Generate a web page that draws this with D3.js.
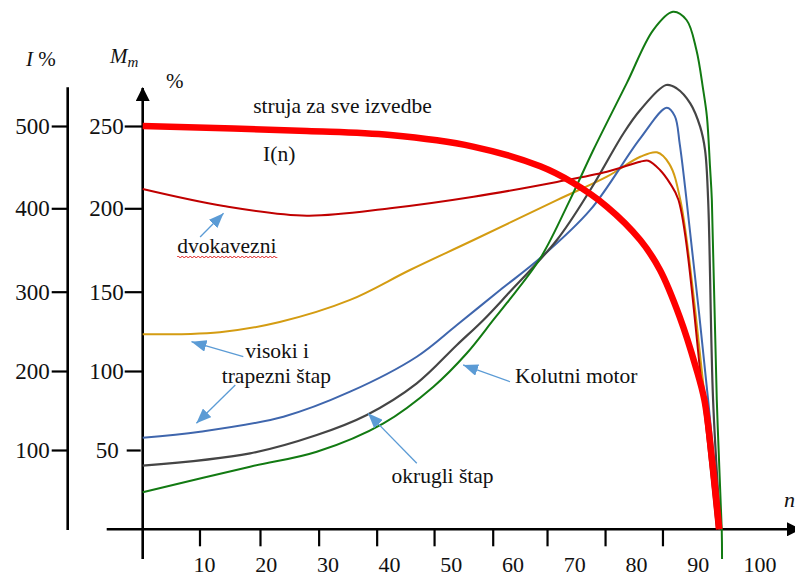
<!DOCTYPE html>
<html><head><meta charset="utf-8">
<script src="https://cdn.jsdelivr.net/npm/d3@7"></script>
<style>
body{margin:0;background:#fff}
svg{display:block}
svg text{font-family:"Liberation Serif","Times New Roman",Times,serif;fill:#111}
</style>
</head><body><svg id="c" width="795" height="577"></svg>
<script>
// ---- data ----
const speedLabels = [10, 20, 30, 40, 50, 60, 70, 80, 90, 100];
const speedTickMarks = [9.2, 19, 28.5, 37.9, 47.2, 56.7, 65.5, 74.9, 84.2];
const torqueTicks = [50, 100, 150, 200, 250];
const currentTicks = [100, 200, 300, 400, 500];

// struja I(n), in % (left axis)
const currentN = [0, 26.6, 40.1, 53.5, 64.4, 69.7, 75.2, 80.6, 83.8, 87.0, 89.6, 91.0, 92.3, 93.4];
const currentI = [500, 494, 489, 475, 451, 431, 402, 362, 326, 268, 205, 163, 83, 0];

// torque curves M(n), in %
const dvokavezniN = [0, 13.1, 26.6, 40.1, 53.6, 67.1, 75.2, 80.6, 81.9, 83.8, 85.4, 86.8, 90.8, 93.0];
const dvokavezniM = [211.7, 201.4, 195.6, 200, 207, 216, 222.2, 228.3, 228.9, 223.3, 215.3, 205, 81.6, 0];

const visokiN = [0, 12.5, 22.2, 33.6, 43.3, 53.6, 67.1, 75.2, 80.6, 83.3, 85.3, 87.1, 91.1, 93.4];
const visokiM = [123.1, 124.5, 130.9, 144.8, 163, 181, 205, 219.2, 231.3, 234, 227, 205, 81.6, 0];

const trapezniN = [0, 9.3, 22.8, 33.6, 44.4, 50.9, 57.9, 64.4, 72.5, 80.6, 84.9, 86.2, 87.0, 88.1, 91.6, 93.5];
const trapezniM = [57.8, 61.6, 71.1, 86.9, 109, 129, 151, 170.2, 199, 242.5, 261.1, 256, 239, 205, 81.6, 0];

const okrugliN = [0, 17.4, 28.2, 36.3, 44.4, 50.9, 55.2, 59, 67.1, 72.5, 77.9, 80.6, 84.8, 86.5, 88.7, 90.3, 91.1, 91.6, 92.4, 93.6];
const okrugliM = [40.1, 47.9, 59.5, 72.2, 92.2, 116.4, 132.2, 147.9, 181, 211.1, 245.6, 259.7, 274.9, 272.9, 263.8, 249.6, 235.4, 205, 81.6, 0];

const kolutniN = [0, 17.4, 28.2, 39, 47.1, 52.5, 56.8, 59, 64.4, 69.2, 73, 78.4, 82.7, 85.9, 88.1, 89.7, 90.8, 91.4, 91.9, 92.2, 93.0, 93.8, 93.85];
const kolutniM = [23.3, 39.5, 48.9, 66.9, 90.1, 111.2, 132.2, 142.9, 170, 205, 235.4, 275.9, 308.3, 319.4, 314.4, 296.2, 271.9, 255.7, 225.3, 205, 81.6, 0, -18.7];

// annotations (n, M, text)
const notes = [
  {n: 17.9, m: 258.2, t: "struja za sve izvedbe"},
  {n: 19.5, m: 228.7, t: "I(n)"},
  {n: 5.6, m: 173.2, t: "dvokavezni", squiggle: true},
  {n: 16.6, m: 108.2, t: "visoki i"},
  {n: 12.8, m: 92.4, t: "trapezni štap"},
  {n: 60.3, m: 92.4, t: "Kolutni motor"},
  {n: 40.3, m: 29, t: "okrugli štap"}
];
const pointers = [
  {n1: 9.3, m1: 182.8, n2: 13.1, m2: 197},
  {n1: 16.3, m1: 109, n2: 7.9, m2: 118.5},
  {n1: 15, m1: 91.1, n2: 8.7, m2: 66.9},
  {n1: 59.5, m1: 93.2, n2: 51.9, m2: 103.8},
  {n1: 44.4, m1: 41.6, n2: 36.5, m2: 73.2}
];

// ---- drawing ----
const FONT = '"Liberation Serif","Times New Roman",Times,serif';
const svg = d3.select("#c");
const x = d3.scaleLinear().domain([0, 100]).range([142.7, 760]);
const yRange = [529.3, 450, 371, 291.7, 208.3, 126];
const yM = d3.scaleLinear().domain([0, 50, 100, 150, 200, 250]).range(yRange);
const yI = d3.scaleLinear().domain([0, 100, 200, 300, 400, 500]).range(yRange);

const defs = svg.append("defs");
defs.append("marker").attr("id", "ah").attr("markerUnits", "userSpaceOnUse")
  .attr("markerWidth", 16).attr("markerHeight", 12).attr("refX", 15).attr("refY", 6)
  .attr("orient", "auto")
  .append("path").attr("d", "M0,0 L15,6 L0,12 Z").attr("fill", "#5b9bd5");
defs.append("marker").attr("id", "axh").attr("markerUnits", "userSpaceOnUse")
  .attr("markerWidth", 14).attr("markerHeight", 14).attr("refX", 13).attr("refY", 7)
  .attr("orient", "auto")
  .append("path").attr("d", "M0,0 L14,7 L0,14 Z").attr("fill", "#000");

// I axis (left)
const gI = svg.append("g").attr("transform", "translate(67.7,0)")
  .call(d3.axisLeft(yI).tickValues(currentTicks).tickSize(16).tickSizeOuter(0).tickPadding(2));
gI.attr("font-family", FONT);
gI.select(".domain").remove();
gI.selectAll(".tick line").attr("stroke", "#000").attr("stroke-width", 2.2);
gI.selectAll(".tick text").style("font-size", "23px").attr("dy", "0.33em");
svg.append("line").attr("x1", 67.7).attr("x2", 67.7).attr("y1", 87.3).attr("y2", 530)
  .attr("stroke", "#000").attr("stroke-width", 2.6);

// M axis
const gM = svg.append("g").attr("transform", "translate(142.7,0)")
  .call(d3.axisLeft(yM).tickValues(torqueTicks).tickSize(18).tickSizeOuter(0).tickPadding(1));
gM.attr("font-family", FONT);
gM.select(".domain").remove();
gM.selectAll(".tick line").attr("stroke", "#000").attr("stroke-width", 2.2)
  .attr("x1", d => d === 50 ? -2 : 0).attr("x2", d => d === 50 ? -16 : -18);
gM.selectAll(".tick text").style("font-size", "23px").attr("dy", "0.33em")
  .attr("x", d => d === 50 ? -24 : -19);
svg.append("line").attr("x1", 142.7).attr("x2", 142.7).attr("y1", 559).attr("y2", 88)
  .attr("stroke", "#000").attr("stroke-width", 2.6).attr("marker-end", "url(#axh)");

// n axis
const gX = svg.append("g").attr("transform", `translate(0,${yM(0)})`)
  .call(d3.axisBottom(x).tickValues(speedTickMarks).tickFormat("").tickSize(17).tickSizeOuter(0));
gX.select(".domain").remove();
gX.selectAll(".tick line").attr("stroke", "#000").attr("stroke-width", 2.2);
svg.append("line").attr("x1", 106.7).attr("x2", 800).attr("y1", yM(0)).attr("y2", yM(0))
  .attr("stroke", "#000").attr("stroke-width", 2.6).attr("marker-end", "url(#axh)");
svg.append("g").selectAll("text").data(speedLabels).join("text")
  .attr("x", d => x(d)).attr("y", 571.5).attr("text-anchor", "middle")
  .attr("font-family", FONT).style("font-size", "22px").text(d => d);

// axis titles
const tI = svg.append("text").attr("x", 26).attr("y", 66).attr("font-family", FONT).style("font-size", "21px");
tI.append("tspan").attr("font-style", "italic").text("I");
tI.append("tspan").text(" %");
const tM = svg.append("text").attr("x", 110).attr("y", 63).attr("font-family", FONT).style("font-size", "21px");
tM.append("tspan").attr("font-style", "italic").text("M");
tM.append("tspan").attr("font-style", "italic").attr("dy", 4).style("font-size", "15px").text("m");
svg.append("text").attr("x", 166).attr("y", 88).attr("font-family", FONT).style("font-size", "21px").text("%");
svg.append("text").attr("x", 784).attr("y", 507).attr("font-family", FONT).style("font-size", "22px").attr("font-style", "italic").text("n");

// curves
const lineM = d3.line().x(d => x(d[0])).y(d => yM(d[1])).curve(d3.curveCatmullRom.alpha(0.5));
const lineI = d3.line().x(d => x(d[0])).y(d => yI(d[1])).curve(d3.curveCatmullRom.alpha(0.5));
const zip = (a, b) => a.map((v, i) => [v, b[i]]);
const series = [
  {n: visokiN, m: visokiM, c: "#d49c12", w: 2},
  {n: trapezniN, m: trapezniM, c: "#3f66ad", w: 2},
  {n: okrugliN, m: okrugliM, c: "#454545", w: 2.2},
  {n: dvokavezniN, m: dvokavezniM, c: "#c00000", w: 2},
  {n: kolutniN, m: kolutniM, c: "#127a12", w: 2}
];
svg.append("g").selectAll("path").data(series).join("path")
  .attr("d", s => lineM(zip(s.n, s.m))).attr("fill", "none")
  .attr("stroke", s => s.c).attr("stroke-width", s => s.w);
svg.append("path").attr("d", lineI(zip(currentN, currentI))).attr("fill", "none")
  .attr("stroke", "#ff0000").attr("stroke-width", 6.5);

// annotations
const gA = svg.append("g");
gA.selectAll("line").data(pointers).join("line")
  .attr("x1", d => x(d.n1)).attr("y1", d => yM(d.m1))
  .attr("x2", d => x(d.n2)).attr("y2", d => yM(d.m2))
  .attr("stroke", "#5b9bd5").attr("stroke-width", 1.3).attr("marker-end", "url(#ah)");
const nt = gA.selectAll("text").data(notes).join("text")
  .attr("x", d => x(d.n)).attr("y", d => yM(d.m))
  .attr("font-family", FONT).style("font-size", "21.5px").text(d => d.t);
nt.filter(d => d.squiggle).each(function () {
  const b = this.getBBox();
  const y0 = b.y + b.height - 1;
  let p = `M${b.x},${y0}`;
  for (let xx = b.x; xx < b.x + b.width; xx += 4) {
    p += ` q1,-2 2,0 q1,2 2,0`;
  }
  gA.append("path").attr("d", p).attr("fill", "none").attr("stroke", "#e02020").attr("stroke-width", 1);
});
</script>
</body></html>
